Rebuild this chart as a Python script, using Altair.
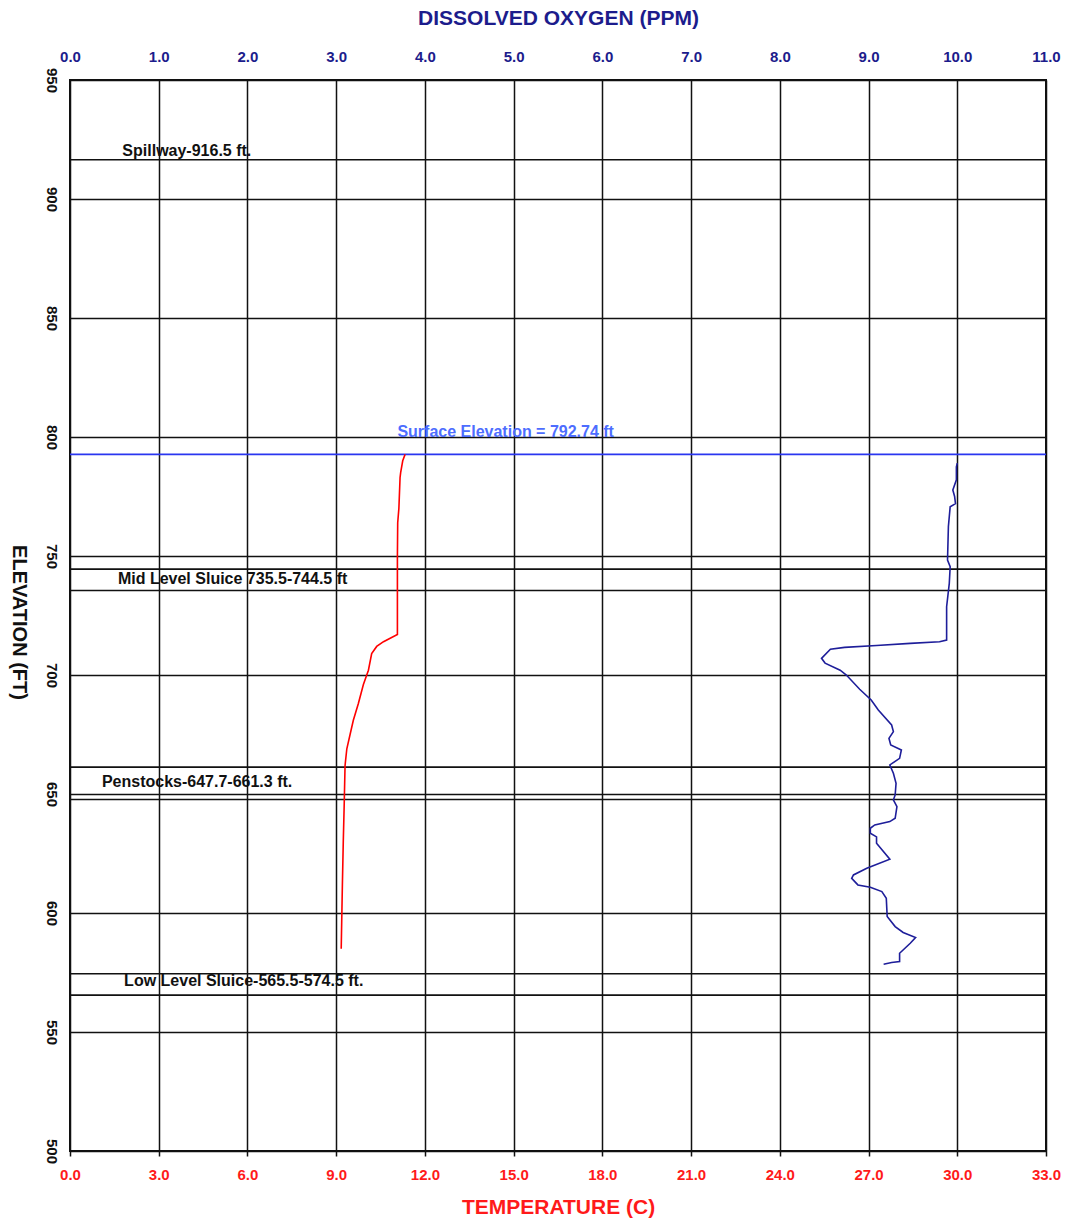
import altair as alt
import pandas as pd

# ---- data ----
temp_elev = [792.7, 790, 785, 783, 770, 764, 750, 730, 717, 714, 712, 709, 702, 696,
             688, 681, 675, 669, 662, 645, 630, 612, 585]
temp_vals = [11.33, 11.25, 11.18, 11.16, 11.12, 11.08, 11.07, 11.07, 11.07, 10.6, 10.37,
             10.2, 10.09, 9.92, 9.75, 9.58, 9.47, 9.36, 9.3, 9.27, 9.24, 9.21, 9.17]

do_elev = [789, 787.5, 782, 777.7, 775, 772, 770.7, 762.4, 748.3, 745.5,
           738.5, 728.7, 719, 714.7, 714, 713.3, 712.4, 711.6, 710.8, 707,
           705, 702, 700, 694, 689.5, 685.3, 679, 676.2, 673.4, 670.6,
           668.5, 665, 662.2, 658.7, 654.5, 649.6, 647.5, 644.7, 639.8, 638.4,
           637, 635.6, 633.5, 632, 629.3, 622.6, 618.8, 616, 614.6, 611.8,
           610.8, 609, 606.2, 598.5, 594.3, 591.8, 589.7, 587.3, 583.1, 579.6,
           579.2, 578.5]
do_vals = [10.0, 9.99, 9.99, 9.95, 9.97, 9.98, 9.92, 9.9, 9.89, 9.92,
           9.91, 9.88, 9.88, 9.88, 9.8, 9.47, 9.09, 8.73, 8.57, 8.47,
           8.51, 8.68, 8.75, 8.9, 9.03, 9.11, 9.26, 9.28, 9.23, 9.25,
           9.37, 9.35, 9.24, 9.28, 9.31, 9.3, 9.28, 9.32, 9.3, 9.24,
           9.07, 9.02, 9.02, 9.09, 9.09, 9.24, 8.98, 8.83, 8.81, 8.88,
           9.02, 9.15, 9.2, 9.21, 9.3, 9.39, 9.53, 9.47, 9.35, 9.35,
           9.26, 9.17]

structure_levels = [916.5, 744.5, 735.5, 661.3, 647.7, 574.5, 565.5]
surface_level = [792.74]

label_texts = ["Spillway-916.5 ft.", "Surface Elevation = 792.74 ft",
               "Mid Level Sluice 735.5-744.5 ft", "Penstocks-647.7-661.3 ft.",
               "Low Level Sluice-565.5-574.5 ft."]
label_elev = [920.2, 802.1, 740.3, 655.0, 571.4]
label_do = [0.59, 3.69, 0.54, 0.36, 0.61]
label_kind = ["black", "blue", "black", "black", "black"]

do_ticks = [float(v) for v in range(0, 12)]
temp_ticks = [float(v) for v in range(0, 34, 3)]
elev_ticks = list(range(500, 951, 50))

temp_df = pd.DataFrame({"elev": temp_elev, "temp": temp_vals, "i": range(len(temp_elev))})
do_df = pd.DataFrame({"elev": do_elev, "do": do_vals, "i": range(len(do_elev))})
lev_df = pd.DataFrame({"elev": structure_levels})
surf_df = pd.DataFrame({"elev": surface_level})
lab_df = pd.DataFrame({"text": label_texts, "elev": label_elev, "do": label_do, "kind": label_kind})

FONT = "Liberation Sans"
NAVY = "#1c1c8c"
RED = "#ff1a1a"

yscale = alt.Scale(domain=[500, 950], nice=False, zero=False)
yaxis = alt.Axis(values=elev_ticks, format="d", grid=True, ticks=False,
                 labelAngle=90, labelAlign="center", labelBaseline="top",
                 labelPadding=12, labelFontSize=15, labelFontWeight="bold",
                 labelColor="#111", labelFont=FONT, labelFlush=False,
                 title="ELEVATION (FT)", titleAngle=90, titleX=-52, titleY=542,
                 titleAlign="center", titleBaseline="middle",
                 titleFontSize=20, titleFontWeight="bold", titleFont=FONT, titleColor="#111")
do_scale = alt.Scale(domain=[0, 11], nice=False, zero=False)
do_axis = alt.Axis(orient="top", values=do_ticks, format=".1f", grid=True, ticks=False,
                   labelPadding=16, labelFontSize=15, labelFontWeight="bold",
                   labelColor=NAVY, labelFont=FONT, labelFlush=False,
                   title="DISSOLVED OXYGEN (PPM)", titleY=-62, titleBaseline="middle",
                   titleFontSize=21, titleFontWeight="bold", titleColor=NAVY, titleFont=FONT)

rules = alt.Chart(lev_df).mark_rule(color="#111", strokeWidth=1.6).encode(
    y=alt.Y("elev:Q", scale=yscale, axis=yaxis))
surf = alt.Chart(surf_df).mark_rule(color="#2a36f0", strokeWidth=1.8).encode(
    y=alt.Y("elev:Q", scale=yscale))
texts = alt.Chart(lab_df).mark_text(align="left", baseline="middle", fontSize=16,
                                     fontWeight="bold", font=FONT).encode(
    x=alt.X("do:Q", scale=do_scale, axis=do_axis),
    y=alt.Y("elev:Q", scale=yscale),
    text="text:N",
    color=alt.Color("kind:N", scale=alt.Scale(domain=["black", "blue"], range=["#111111", "#4d6dff"]), legend=None))
do_line = alt.Chart(do_df).mark_line(color="#1e1e9a", strokeWidth=1.6).encode(
    x=alt.X("do:Q", scale=do_scale, axis=do_axis),
    y=alt.Y("elev:Q", scale=yscale),
    order="i:Q")

do_group = alt.layer(rules, surf, texts, do_line)

temp_line = alt.Chart(temp_df).mark_line(color="#ff0000", strokeWidth=1.6).encode(
    x=alt.X("temp:Q", scale=alt.Scale(domain=[0, 33], nice=False, zero=False),
            axis=alt.Axis(orient="bottom", values=temp_ticks, format=".1f", grid=False,
                          ticks=True, tickSize=5, tickColor="#111", tickWidth=1.5,
                          labelPadding=11, labelFontSize=15, labelFontWeight="bold",
                          labelColor=RED, labelFont=FONT, labelFlush=False,
                          title="TEMPERATURE (C)", titleY=56, titleBaseline="middle",
                          titleFontSize=21, titleFontWeight="bold", titleColor=RED, titleFont=FONT)),
    y=alt.Y("elev:Q", scale=yscale),
    order="i:Q")

chart = alt.layer(do_group, temp_line).resolve_scale(x="independent").properties(
    width=976, height=1071,
    autosize=alt.AutoSizeParams(type="none"),
    padding={"left": 70, "top": 80, "right": 27, "bottom": 71},
    background="white",
).configure_view(stroke="#111", strokeWidth=2).configure_axis(
    gridColor="#111", gridOpacity=1, gridWidth=1.5, domain=False
)

chart.save("out.html", embed_options={"renderer": "svg", "actions": False})
